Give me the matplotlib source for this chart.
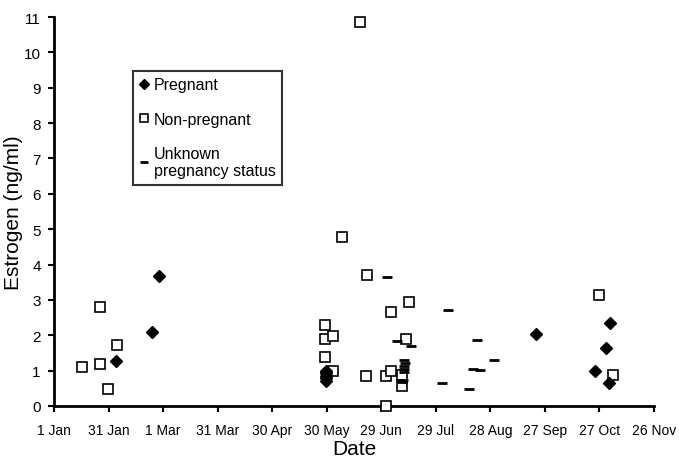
import matplotlib
matplotlib.use("Agg")
import matplotlib.pyplot as plt

plt.rcParams['font.family'] = ['Liberation Sans', 'DejaVu Sans']

# Day of year (1 Jan = 0) and estrogen (ng/ml)
preg_day = [33.9, 53.7, 57.6, 149.5, 149.5, 149.5, 149.5, 149.5, 265, 297.6, 303.6, 305, 306]
preg_val = [1.26, 2.10, 3.68, 1.0, 0.92, 0.85, 0.78, 0.72, 2.04, 0.99, 1.65, 0.66, 2.35]

nonp_day = [15.6, 25.3, 25.5, 29.5, 34.7, 149.2, 149.2, 153.6, 149.2, 153.6, 158.4, 168.3,
            172.4, 171.4, 182.4, 182.4, 185.4, 185.4, 193.4, 191.2, 191.2, 195.3, 300, 307.5]
nonp_val = [1.09, 2.80, 1.20, 0.48, 1.73, 2.29, 1.89, 1.97, 1.39, 0.99, 4.77, 10.87,
            3.70, 0.86, 0.86, 0.0, 2.67, 1.00, 1.89, 0.89, 0.57, 2.93, 3.14, 0.88]

unk_day = [183.3, 188.5, 196.6, 192.5, 193.0, 192.5, 192.5, 192.5, 192.0, 191.5,
           216.5, 213.4, 230.3, 234.3, 232.5, 228.3, 242.2]
unk_val = [3.65, 1.83, 1.70, 1.31, 1.21, 1.13, 1.06, 0.97, 0.74, 0.67,
           2.72, 0.66, 1.06, 1.02, 1.88, 0.49, 1.31]

tick_days = [0, 30, 60, 90, 120, 150, 180, 210, 240, 270, 300, 330]
tick_labels = ['1 Jan', '31 Jan', '1 Mar', '31 Mar', '30 Apr', '30 May', '29 Jun',
               '29 Jul', '28 Aug', '27 Sep', '27 Oct', '26 Nov']

fig = plt.figure(figsize=(6.79, 4.60), dpi=100)
ax = fig.add_axes([54/679, 1-407/460, 600/679, 389/460])

ax.plot(nonp_day, nonp_val, linestyle='none', marker='s', markersize=7,
        markerfacecolor='white', markeredgecolor='black', markeredgewidth=1.2,
        label='Non-pregnant', clip_on=False, zorder=3)
ax.plot(preg_day, preg_val, linestyle='none', marker='D', markersize=6,
        color='black', label='Pregnant', clip_on=False, zorder=4)
ax.plot(unk_day, unk_val, linestyle='none', marker='_', markersize=7.5,
        markeredgewidth=2, color='black', label='Unknown\npregnancy status',
        clip_on=False, zorder=4)

ax.set_xlim(0, 330)
ax.set_ylim(0, 11)
ax.set_xticks(tick_days)
ax.set_xticklabels(tick_labels)
ax.set_yticks(range(0, 12))

for s in ['top', 'right']:
    ax.spines[s].set_visible(False)
for s in ['left', 'bottom']:
    ax.spines[s].set_linewidth(2)
ax.tick_params(axis='both', direction='out', length=4, width=1.5)
ax.tick_params(axis='y', labelsize=11, pad=5.5)
ax.tick_params(axis='x', labelsize=10, pad=8)

ax.set_xlabel('Date', fontsize=15, va='baseline')
ax.xaxis.set_label_coords(0.5, (407 - 455) / 389)
ax.set_ylabel('Estrogen (ng/ml)', fontsize=15)
ax.yaxis.set_label_coords((23 - 54) / 600, 0.5)

handles, labels = ax.get_legend_handles_labels()
order = [1, 0, 2]
leg = ax.legend([handles[i] for i in order], [labels[i] for i in order],
                loc='upper left', bbox_to_anchor=(0.132, 0.861),
                frameon=True, fancybox=False, edgecolor='black', fontsize=11.5,
                handlelength=0.6, handletextpad=0.3, labelspacing=1.2,
                borderpad=0.4, borderaxespad=0, markerscale=0.8)
leg.get_frame().set_linewidth(1.5)

fig.savefig('out.png', dpi=100)
